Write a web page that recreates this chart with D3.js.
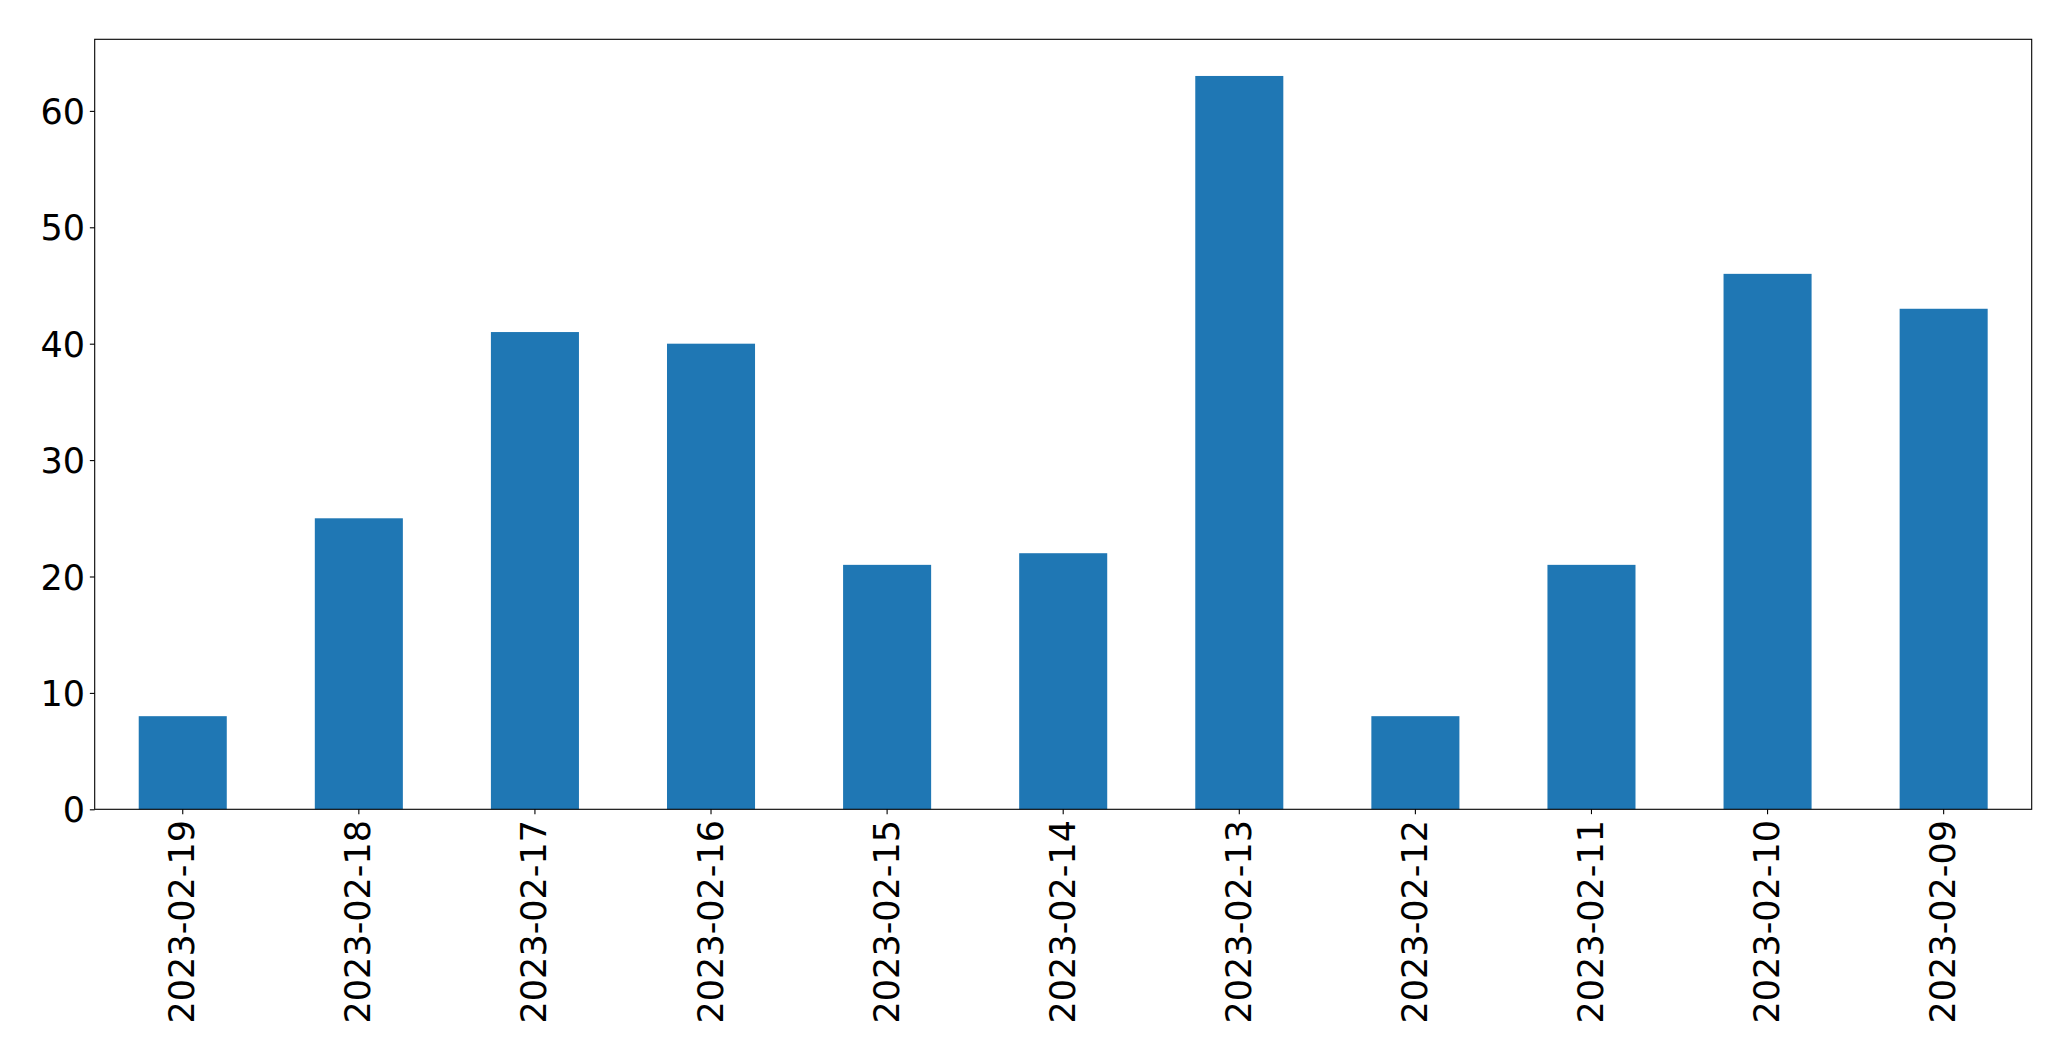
<!DOCTYPE html>
<html>
<head>
<meta charset="utf-8">
<script src="https://cdn.jsdelivr.net/npm/d3@7"></script>
<style>
  html, body { margin: 0; padding: 0; background: #fff; }
  svg { display: block; }
  text { font-family: "DejaVu Sans", sans-serif; fill: #000; }
</style>
</head>
<body>
<svg id="chart" width="2071" height="1061"></svg>
<script>
const categories = ["2023-02-19","2023-02-18","2023-02-17","2023-02-16","2023-02-15","2023-02-14","2023-02-13","2023-02-12","2023-02-11","2023-02-10","2023-02-09"];
const values = [8, 25, 41, 40, 21, 22, 63, 8, 21, 46, 43];
const yTicks = [0, 10, 20, 30, 40, 50, 60];

const margin = { left: 94.7, right: 2071 - 2031.7, top: 39.3, bottom: 1061 - 809.3 };
const W = 2071, H = 1061;
const iw = W - margin.left - margin.right;
const ih = H - margin.top - margin.bottom;
const svg = d3.select("#chart");
const g = svg.append("g").attr("transform", `translate(${margin.left},${margin.top})`);

const x = d3.scaleBand().domain(categories).range([0, iw]).paddingInner(0.5).paddingOuter(0.25);
const y = d3.scaleLinear().domain([0, d3.max(values) * 1.05]).range([ih, 0]);

g.selectAll("rect.bar").data(values).join("rect")
  .attr("class", "bar")
  .attr("x", (d, i) => x(categories[i]))
  .attr("width", x.bandwidth())
  .attr("y", d => y(d))
  .attr("height", d => y(0) - y(d))
  .attr("fill", "#1f77b4");

const fs = 35;
const tickLen = 4.86, pad = 4.86;

const yAxis = d3.axisLeft(y).tickValues(yTicks).tickSize(tickLen).tickPadding(pad).tickFormat(d3.format("d"));
const ya = g.append("g").call(yAxis);
ya.select(".domain").remove();
ya.selectAll("line").attr("stroke", "#000").attr("stroke-width", 1.1);
ya.selectAll("text").attr("font-size", fs).attr("font-family", "DejaVu Sans").attr("fill", "#000").attr("dy", "0.36em");

const xAxis = d3.axisBottom(x).tickSize(tickLen).tickPadding(pad);
const xa = g.append("g").attr("transform", `translate(0,${ih})`).call(xAxis);
xa.select(".domain").remove();
xa.selectAll("line").attr("stroke", "#000").attr("stroke-width", 1.1);
xa.selectAll("text")
  .attr("font-size", fs).attr("font-family", "DejaVu Sans").attr("fill", "#000")
  .attr("text-anchor", "end")
  .attr("transform", `translate(0,${tickLen + pad + 1}) rotate(-90)`)
  .attr("x", 0).attr("y", 0).attr("dy", "0.33em");

g.append("rect")
  .attr("x", 0).attr("y", 0).attr("width", iw).attr("height", ih)
  .attr("fill", "none").attr("stroke", "#000").attr("stroke-width", 1.1);
</script>
</body>
</html>
